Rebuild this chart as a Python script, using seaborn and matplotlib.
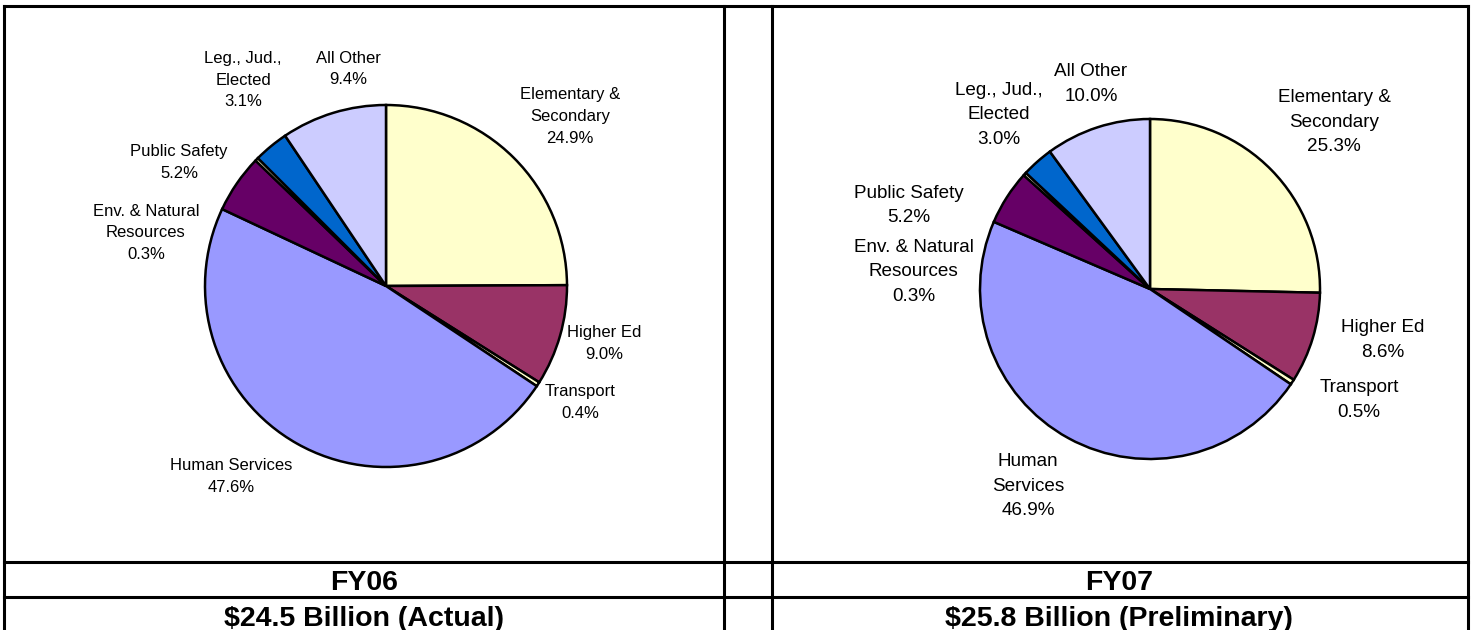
import matplotlib
matplotlib.use("Agg")
import matplotlib.pyplot as plt
import seaborn as sns

# ---------------- data ----------------
fy06_labels = ["Elementary &\nSecondary", "Higher Ed", "Transport", "Human Services",
               "Public Safety", "Env. & Natural\nResources", "Leg., Jud.,\nElected", "All Other"]
fy07_labels = ["Elementary &\nSecondary", "Higher Ed", "Transport", "Human\nServices",
               "Public Safety", "Env. & Natural\nResources", "Leg., Jud.,\nElected", "All Other"]
fy06_values = [24.9, 9.0, 0.4, 47.6, 5.2, 0.3, 3.1, 9.4]
fy07_values = [25.3, 8.6, 0.5, 46.9, 5.2, 0.3, 3.0, 10.0]
years = ["FY06", "FY07"]
totals = ["$24.5 Billion (Actual)", "$25.8 Billion (Preliminary)"]

# ---------------- style / layout ----------------
slice_colors = ["#FFFFCC", "#993366", "#FFFFCC", "#9999FF",
                "#660066", "#FFFFCC", "#0066CC", "#CCCCFF"]
W, H = 1475, 630
# pie centre (px, from top-left) and radius (px)
pies = [dict(cx=386, cy=286, r=181, fs=12.0),
        dict(cx=1150, cy=289, r=170, fs=13.6)]
# label anchor offsets in units of radius (x right, y up)
label_pos = [
    [(1.017, 0.939), (1.207, -0.320), (1.072, -0.646), (-0.856, -1.055),
     (-1.144, 0.680), (-1.326, 0.293), (-0.790, 1.138), (-0.210, 1.199)],
    [(1.082, 0.982), (1.368, -0.300), (1.229, -0.653), (-0.718, -1.159),
     (-1.419, 0.491), (-1.391, 0.100), (-0.888, 1.024), (-0.347, 1.206)],
]
cell_centres = [364, 1119]

sns.set_theme(style="white")
plt.rcParams["font.family"] = ["Liberation Sans", "DejaVu Sans"]

fig = plt.figure(figsize=(W / 100, H / 100), dpi=100)
ax = fig.add_axes([0, 0, 1, 1])
palette = sns.color_palette(slice_colors)

for i, (vals, labs) in enumerate([(fy06_values, fy06_labels), (fy07_values, fy07_labels)]):
    p = pies[i]
    cx, cy, r = p["cx"], H - p["cy"], p["r"]
    ax.pie(vals, colors=palette, startangle=90, counterclock=False,
           center=(cx, cy), radius=r, frame=True,
           wedgeprops=dict(edgecolor="black", linewidth=1.8))
    for lab, v, (dx, dy) in zip(labs, vals, label_pos[i]):
        ax.text(cx + dx * r, cy + dy * r, f"{lab}\n{v:.1f}%", ha="center", va="center",
                fontsize=p["fs"], linespacing=1.58, color="black")
    ax.text(cell_centres[i], H - 590.5, years[i], ha="center", va="baseline",
            fontsize=20.5, fontweight="bold", color="black")
    ax.text(cell_centres[i], H - 626, totals[i], ha="center", va="baseline",
            fontsize=20.5, fontweight="bold", color="black")

# table grid lines
lw = 2.2
for y in [6, 562, 597]:
    ax.plot([4, 1468], [H - y, H - y], color="black", lw=lw, clip_on=False,
            solid_capstyle="projecting")
for x in [4, 724, 772, 1468]:
    ax.plot([x, x], [H - 6, 0], color="black", lw=lw, clip_on=False,
            solid_capstyle="projecting")

ax.set_xlim(0, W)
ax.set_ylim(0, H)
ax.set_aspect("auto")
ax.axis("off")

fig.savefig("out.png", dpi=100, facecolor="white")
